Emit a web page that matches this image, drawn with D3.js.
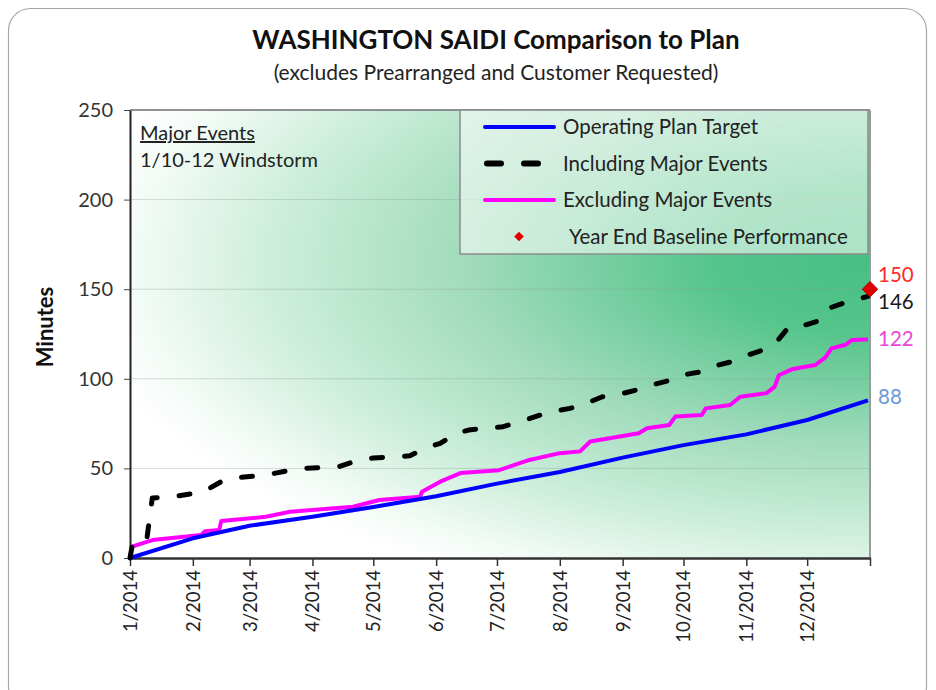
<!DOCTYPE html>
<html>
<head>
<meta charset="utf-8">
<script src="https://cdn.jsdelivr.net/npm/d3@7"></script>
<style>
  body { margin: 0; background: #fff; }
  svg text { font-family: Lato, "Open Sans", sans-serif; }
</style>
</head>
<body>
<script>
// chart size
var width = 936;
var height = 690;

// data
var monthLabels = ["1/2014","2/2014","3/2014","4/2014","5/2014","6/2014","7/2014","8/2014","9/2014","10/2014","11/2014","12/2014"];
var yTicks = [0, 50, 100, 150, 200, 250];

var planDates = ["2014-01-01","2014-02-01","2014-03-01","2014-04-01","2014-05-01","2014-06-01","2014-07-01","2014-08-01","2014-09-01","2014-10-01","2014-11-01","2014-12-01","2014-12-31"];
var planValues = [0, 11, 18, 23, 28.5, 34.5, 41.5, 48, 56, 63, 69, 77, 88];

var inclDates = ["2014-01-01","2014-01-02","2014-01-09","2014-01-12","2014-01-21","2014-02-06","2014-02-15","2014-02-21","2014-03-09","2014-03-21","2014-03-27","2014-04-14","2014-04-24","2014-05-01","2014-05-19","2014-05-27","2014-06-03","2014-06-11","2014-06-17","2014-07-04","2014-07-15","2014-07-27","2014-08-06","2014-08-12","2014-08-22","2014-08-29","2014-09-08","2014-09-15","2014-09-25","2014-09-30","2014-10-10","2014-10-15","2014-10-25","2014-11-01","2014-11-09","2014-11-16","2014-11-22","2014-11-30","2014-12-08","2014-12-12","2014-12-21","2014-12-31"];
var inclValues = [0, 6.3, 8, 33.5, 34, 36.8, 42.6, 44.6, 46.3, 49, 50, 51, 54.7, 55.8, 57, 61.4, 64, 69.6, 71.4, 73.3, 77, 81.5, 83.5, 85.4, 90, 91, 93.8, 96.5, 99.3, 102, 104, 106.8, 109.6, 113, 116, 120.7, 129, 130, 132.8, 139.5, 143, 146];

var exclDates = ["2014-01-01","2014-01-02","2014-01-12","2014-02-05","2014-02-07","2014-02-14","2014-02-15","2014-03-09","2014-03-21","2014-04-04","2014-04-21","2014-05-04","2014-05-24","2014-05-25","2014-06-03","2014-06-13","2014-07-02","2014-07-17","2014-08-01","2014-08-11","2014-08-16","2014-09-09","2014-09-13","2014-09-24","2014-09-27","2014-10-10","2014-10-12","2014-10-24","2014-10-29","2014-11-11","2014-11-15","2014-11-17","2014-11-24","2014-12-05","2014-12-10","2014-12-13","2014-12-20","2014-12-23","2014-12-31"];
var exclValues = [0, 6.3, 10, 12.8, 15, 15.6, 20.6, 23, 25.8, 27, 28.6, 32.4, 34.2, 37, 42.6, 47.4, 49, 54.7, 58.5, 59.5, 65, 69.6, 72.4, 74.2, 78.9, 79.8, 83.5, 85.4, 90, 92, 95.6, 102, 105.5, 107.7, 112, 117, 119, 121.6, 122];

var baselineValue = 150;

var endLabels = [
  {text: "150", value: 150, color: "#ff2a2a", dy: -14},
  {text: "146", value: 146, color: "#1a1a1a", dy: 5},
  {text: "122", value: 122, color: "#e844d8", dy: -1},
  {text: "88",  value: 88,  color: "#6a98dc", dy: -3}
];

var parse = d3.timeParse("%Y-%m-%d");
var zip = function(dates, values){
  return dates.map(function(d, i){ return {date: parse(d), value: values[i]}; });
};
var plan = zip(planDates, planValues);
var incl = zip(inclDates, inclValues);
var excl = zip(exclDates, exclValues);

var svg = d3.select('body').append('svg').attr('width', width).attr('height', height);
var defs = svg.append('defs');

// outer frame
svg.append('rect')
  .attr('x', 8.5).attr('y', 8.5).attr('width', 918).attr('height', 700)
  .attr('rx', 22)
  .attr('fill', '#fff').attr('stroke', '#a6a6a6').attr('stroke-width', 1.2);

var pLeft = 130, pRight = 870, pTop = 110, pBottom = 558;

var x = d3.scaleTime()
  .domain([parse("2014-01-01"), parse("2015-01-01")])
  .range([pLeft, pRight]);
var y = d3.scaleLinear().domain([0, 250]).range([pBottom, pTop]);

// plot background gradient
var gcx = pRight, gcy = 262;
var grad = defs.append('radialGradient')
  .attr('id', 'bg')
  .attr('gradientUnits', 'userSpaceOnUse')
  .attr('cx', gcx).attr('cy', gcy).attr('r', 800)
  .attr('fx', gcx).attr('fy', gcy)
  .attr('gradientTransform', 'translate(' + gcx + ',' + gcy + ') scale(1,0.45) translate(' + (-gcx) + ',' + (-gcy) + ')');
[[0, '#46bf82'], [0.2, '#56c58b'], [0.5, '#a0dbbb'], [0.75, '#cdeedb'], [0.92, '#f3fbf6'], [1, '#ffffff']].forEach(function(s){
  grad.append('stop').attr('offset', s[0]).attr('stop-color', s[1]);
});

svg.append('rect')
  .attr('x', pLeft).attr('y', pTop).attr('width', pRight - pLeft).attr('height', pBottom - pTop)
  .attr('fill', 'url(#bg)');

// gridlines
svg.append('g').selectAll('line')
  .data(yTicks.filter(function(d){ return d > 0 && d < 250; }))
  .enter().append('line')
  .attr('x1', pLeft).attr('x2', pRight)
  .attr('y1', function(d){ return y(d); }).attr('y2', function(d){ return y(d); })
  .attr('stroke', '#8a9a90').attr('stroke-opacity', 0.35).attr('stroke-width', 1);

// plot borders (top / right)
svg.append('line').attr('x1', pLeft).attr('x2', pRight).attr('y1', pTop).attr('y2', pTop)
  .attr('stroke', '#6e6e6e').attr('stroke-width', 1.5);
svg.append('line').attr('x1', pRight).attr('x2', pRight).attr('y1', pTop).attr('y2', pBottom)
  .attr('stroke', '#9a9a9a').attr('stroke-width', 2);

// axes
var yAxis = svg.append('g')
  .attr('transform', 'translate(' + pLeft + ',0)')
  .call(d3.axisLeft(y).tickValues(yTicks).tickSize(6).tickPadding(11).tickSizeOuter(0));
yAxis.select('.domain').attr('stroke', '#222').attr('stroke-width', 2);
yAxis.selectAll('.tick line').attr('stroke', '#444');
yAxis.selectAll('text').attr('font-size', 20).attr('fill', '#333');

var monthTicks = d3.timeMonth.range(parse("2014-01-01"), parse("2015-01-02"));
var xAxis = svg.append('g')
  .attr('transform', 'translate(0,' + pBottom + ')')
  .call(d3.axisBottom(x).tickValues(monthTicks).tickSize(8).tickSizeOuter(0)
    .tickFormat(function(d, i){ return monthLabels[i] || ''; }));
xAxis.select('.domain').attr('stroke', '#333').attr('stroke-width', 2.5);
xAxis.selectAll('.tick line').attr('stroke', '#333').attr('stroke-width', 1.5);
xAxis.selectAll('text')
  .attr('font-size', 18.5).attr('fill', '#222')
  .attr('text-anchor', 'end')
  .attr('transform', 'rotate(-90)')
  .attr('x', -12).attr('y', 0).attr('dy', '0.35em');

// lines
var line = d3.line()
  .x(function(d){ return x(d.date); })
  .y(function(d){ return y(d.value); })
  .curve(d3.curveLinear);

svg.append('path').datum(excl)
  .attr('d', line).attr('fill', 'none')
  .attr('stroke', '#ff00ff').attr('stroke-width', 4).attr('stroke-linejoin', 'round');
svg.append('path').datum(plan)
  .attr('d', line).attr('fill', 'none')
  .attr('stroke', '#0000ff').attr('stroke-width', 4).attr('stroke-linejoin', 'round');
svg.append('path').datum(incl)
  .attr('d', line).attr('fill', 'none')
  .attr('stroke', '#000').attr('stroke-width', 5)
  .attr('stroke-dasharray', '11,22').attr('stroke-linecap', 'round').attr('stroke-linejoin', 'round');

// baseline marker
svg.append('path')
  .attr('d', d3.symbol().type(d3.symbolDiamond2).size(150))
  .attr('transform', 'translate(' + x(parse("2015-01-01")) + ',' + y(baselineValue) + ')')
  .attr('fill', '#e00000').attr('stroke', '#b00000').attr('stroke-width', 1);

// end labels
svg.append('g').selectAll('text')
  .data(endLabels).enter().append('text')
  .attr('x', pRight + 8)
  .attr('y', function(d){ return y(d.value) + d.dy; })
  .attr('dy', '0.35em')
  .attr('font-size', 20.5)
  .attr('fill', function(d){ return d.color; })
  .text(function(d){ return d.text; });

// legend
var lg = svg.append('g');
lg.append('rect')
  .attr('x', 460).attr('y', 110).attr('width', 408).attr('height', 144)
  .attr('fill', '#ffffff').attr('fill-opacity', 0.55)
  .attr('stroke', '#8c8c8c').attr('stroke-width', 1.5);
var legendItems = [
  {label: "Operating Plan Target", color: '#0000ff', dash: null, w: 4},
  {label: "Including Major Events", color: '#000', dash: '14,23', w: 6},
  {label: "Excluding Major Events", color: '#ff00ff', dash: null, w: 4},
  {label: "Year End Baseline Performance", color: '#e00000', marker: true}
];
legendItems.forEach(function(d, i){
  var cy = 127 + i * 36.5;
  if (d.marker) {
    lg.append('path')
      .attr('d', d3.symbol().type(d3.symbolDiamond2).size(60))
      .attr('transform', 'translate(519,' + cy + ')')
      .attr('fill', d.color);
    lg.append('text').attr('x', 569).attr('y', cy).attr('dy', '0.35em')
      .attr('font-size', 20.5).attr('fill', '#222').text(d.label);
  } else {
    lg.append('line')
      .attr('x1', d.dash ? 487 : 485).attr('x2', 554).attr('y1', cy).attr('y2', cy)
      .attr('stroke', d.color).attr('stroke-width', d.w)
      .attr('stroke-dasharray', d.dash).attr('stroke-linecap', 'round');
    lg.append('text').attr('x', 563).attr('y', cy).attr('dy', '0.35em')
      .attr('font-size', 20.5).attr('fill', '#222').text(d.label);
  }
});

// annotation
svg.append('text').attr('x', 140).attr('y', 140)
  .attr('font-size', 20).attr('fill', '#222')
  .attr('text-decoration', 'underline').text("Major Events");
svg.append('text').attr('x', 140).attr('y', 167)
  .attr('font-size', 20).attr('fill', '#222').text("1/10-12 Windstorm");

// titles
svg.append('text').attr('x', 496).attr('y', 49)
  .attr('text-anchor', 'middle').attr('font-size', 26).attr('font-weight', 'bold').attr('fill', '#111')
  .text("WASHINGTON SAIDI Comparison to Plan");
svg.append('text').attr('x', 496).attr('y', 80)
  .attr('text-anchor', 'middle').attr('font-size', 21).attr('fill', '#222')
  .text("(excludes Prearranged and Customer Requested)");

svg.append('text')
  .attr('transform', 'translate(53,' + 327 + ') rotate(-90)')
  .attr('text-anchor', 'middle').attr('font-size', 22).attr('font-weight', 'bold').attr('fill', '#111')
  .text("Minutes");
</script>
</body>
</html>
